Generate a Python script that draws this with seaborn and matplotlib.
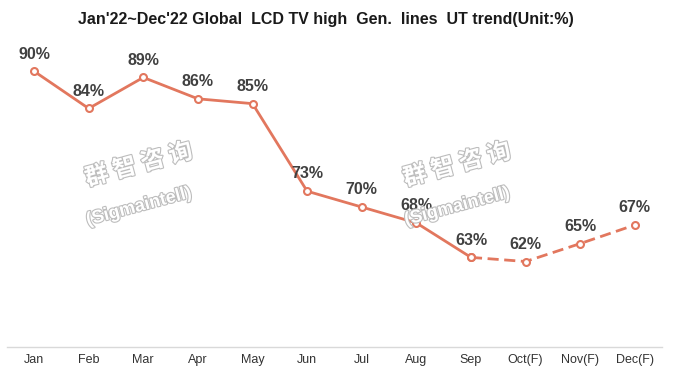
import matplotlib
matplotlib.use('Agg')
import matplotlib.pyplot as plt
import matplotlib.patheffects as pe
import seaborn as sns
import pandas as pd

# data
months = ['Jan', 'Feb', 'Mar', 'Apr', 'May', 'Jun', 'Jul', 'Aug', 'Sep',
          'Oct(F)', 'Nov(F)', 'Dec(F)']
ut_actual = [90, 84.6, 89.1, 86, 85.3, 72.6, 70.3, 68, 63]
ut_forecast = [63, 62.4, 65, 67.7]
ut_labels = ['90%', '84%', '89%', '86%', '85%', '73%', '70%', '68%', '63%',
             '62%', '65%', '67%']

line_color = '#E2775E'

sns.set_theme(style='white')
plt.rcParams['font.family'] = ['Liberation Sans', 'DejaVu Sans']

df_act = pd.DataFrame({'x': range(len(ut_actual)), 'ut': ut_actual})
df_fc = pd.DataFrame({'x': range(len(ut_actual) - 1, len(months)), 'ut': ut_forecast})

fig = plt.figure(figsize=(6.77, 3.83), dpi=100)
ax = fig.add_axes([0.01, 0.094, 0.968, 0.9])

sns.lineplot(data=df_act, x='x', y='ut', ax=ax, color=line_color, lw=2,
             marker='o', markersize=5, markerfacecolor='white',
             markeredgecolor=line_color, markeredgewidth=1.5)
sns.lineplot(data=df_fc, x='x', y='ut', ax=ax, color=line_color, lw=2,
             linestyle=(0, (4, 2)), marker='o', markersize=5,
             markerfacecolor='white', markeredgecolor=line_color,
             markeredgewidth=1.5)

all_vals = ut_actual + ut_forecast[1:]
for i, (v, lab) in enumerate(zip(all_vals, ut_labels)):
    ax.annotate(lab, (i, v), xytext=(0, 7), textcoords='offset points',
                ha='center', va='bottom', fontsize=11.5, fontweight='bold',
                color='#404040')

ax.set_xlim(-0.5, len(months) - 0.5)
ax.set_ylim(50, 100)
ax.set_xticks(range(len(months)))
ax.set_xticklabels(months, fontsize=9, color='#333333')
ax.set_yticks([])
ax.set_xlabel('')
ax.set_ylabel('')
ax.tick_params(axis='x', length=0, pad=5)
for s in ['top', 'right', 'left']:
    ax.spines[s].set_visible(False)
ax.spines['bottom'].set_color('#D9D9D9')
ax.spines['bottom'].set_linewidth(1)

fig.text(0.482, 0.948, "Jan'22~Dec'22 Global  LCD TV high  Gen.  lines  UT trend(Unit:%)",
         ha='center', va='center', fontsize=11.5, fontweight='bold', color='#1a1a1a')

# watermarks
outline = [pe.withStroke(linewidth=1.6, foreground='#BDBDBD')]
for cx, cy in [(0.205, 0.52), (0.675, 0.52)]:
    fig.text(cx, cy + 0.05, '群 智 咨 询', ha='center', va='center', fontsize=17,
             fontweight='bold', rotation=15, color='white',
             family=['Noto Sans CJK SC', 'DejaVu Sans'], path_effects=outline, zorder=0)
    fig.text(cx, cy - 0.06, '(Sigmaintell)', ha='center', va='center', fontsize=13,
             fontweight='bold', rotation=15, color='white',
             path_effects=outline, zorder=0)

fig.savefig('out.png', dpi=100)
